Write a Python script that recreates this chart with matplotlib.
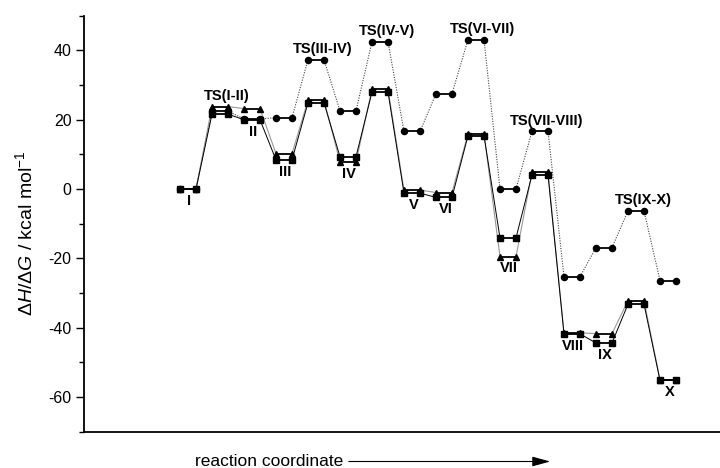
import matplotlib
matplotlib.use("Agg")
import matplotlib.pyplot as plt
from matplotlib.ticker import MultipleLocator

plt.rcParams["font.family"] = ["Liberation Sans", "DejaVu Sans"]
plt.rcParams["mathtext.fontset"] = "custom"
plt.rcParams["mathtext.rm"] = "Liberation Sans"
plt.rcParams["mathtext.it"] = "Liberation Sans:italic"
plt.rcParams["axes.unicode_minus"] = False

# states along the reaction coordinate
states = ["I", "TS(I-II)", "II", "III", "TS(III-IV)", "IV", "TS(IV-V)", "V",
          "VI", "TS(VI-VII)", "VII", "TS(VII-VIII)", "VIII", "IX", "TS(IX-X)", "X"]

# energies in kcal/mol
circles = [0.0, 22.5, 20.2, 20.6, 37.3, 22.5, 42.5, 16.6,
           27.5, 43.1, 0.0, 16.7, -25.3, -16.9, -6.3, -26.4]
triangles = [0.0, 23.8, 23.2, 10.2, 25.6, 7.8, 28.8, -0.3,
             -1.0, 15.9, -19.5, 4.8, -41.5, -41.7, -32.2, -55.0]
squares = [0.0, 21.6, 20.0, 8.4, 24.9, 9.3, 28.0, -1.2,
           -2.4, 15.4, -14.1, 4.1, -41.8, -44.4, -33.2, -55.2]

HALF = 0.25


def draw_series(ax, vals, marker, ms, conn_kw):
    n = len(vals)
    # connectors between the right end of one level and the left end of the next
    for i in range(n - 1):
        ax.plot([i + HALF, i + 1 - HALF], [vals[i], vals[i + 1]], **conn_kw, zorder=2)
    # levels
    for i, v in enumerate(vals):
        ax.plot([i - HALF, i + HALF], [v, v], color="black", lw=1.3,
                marker=marker, ms=ms, mfc="black", mec="black", zorder=3)


fig = plt.figure(figsize=(7.2, 4.68), dpi=100)
ax = fig.add_axes([84 / 720, 36.3 / 468, 636 / 720, 416 / 468])

draw_series(ax, circles, "o", 4.4, dict(color="#444444", lw=0.8, ls=(0, (1, 1.3))))
draw_series(ax, triangles, "^", 5.0, dict(color="#999999", lw=0.8))
draw_series(ax, squares, "s", 4.4, dict(color="black", lw=0.7))

# state labels: transition states above, intermediates below
for i, name in enumerate(states):
    hi = max(circles[i], triangles[i], squares[i])
    lo = min(circles[i], triangles[i], squares[i])
    if name.startswith("TS"):
        ax.annotate(name, (i, hi), xytext=(5, 7.5), textcoords="offset points",
                    ha="center", va="center", fontsize=10.5, fontweight="bold")
    else:
        ax.annotate(name, (i, lo), xytext=(1, -8.5), textcoords="offset points",
                    ha="center", va="center", fontsize=10.5, fontweight="bold")

ax.set_xlim(-3.25, 16.625)
ax.set_ylim(-70, 50)
ax.yaxis.set_major_locator(MultipleLocator(20))
ax.yaxis.set_minor_locator(MultipleLocator(10))
ax.tick_params(axis="y", which="major", direction="out", length=6, width=1,
               labelsize=11.5, pad=3)
ax.tick_params(axis="y", which="minor", direction="out", length=3.5, width=1)
ax.set_xticks([])
for side in ("top", "right"):
    ax.spines[side].set_visible(False)
for side in ("left", "bottom"):
    ax.spines[side].set_linewidth(1.3)

ax.set_ylabel(r"$\Delta H/\Delta G$ / kcal mol$^{-1}$", fontsize=14,
              va="center", ha="center")
ax.yaxis.set_label_coords(-0.093, 0.478)

ybot = 1 - 461.5 / 468
fig.text(343 / 720, ybot, "reaction coordinate", ha="right", va="center", fontsize=12.5)
ax.annotate("", xy=(553 / 720, ybot), xytext=(346 / 720, ybot),
            xycoords="figure fraction", textcoords="figure fraction",
            arrowprops=dict(arrowstyle="-|>,head_length=1.1,head_width=0.3",
                            lw=0.8, color="black"))

fig.savefig("out.png", dpi=100)
